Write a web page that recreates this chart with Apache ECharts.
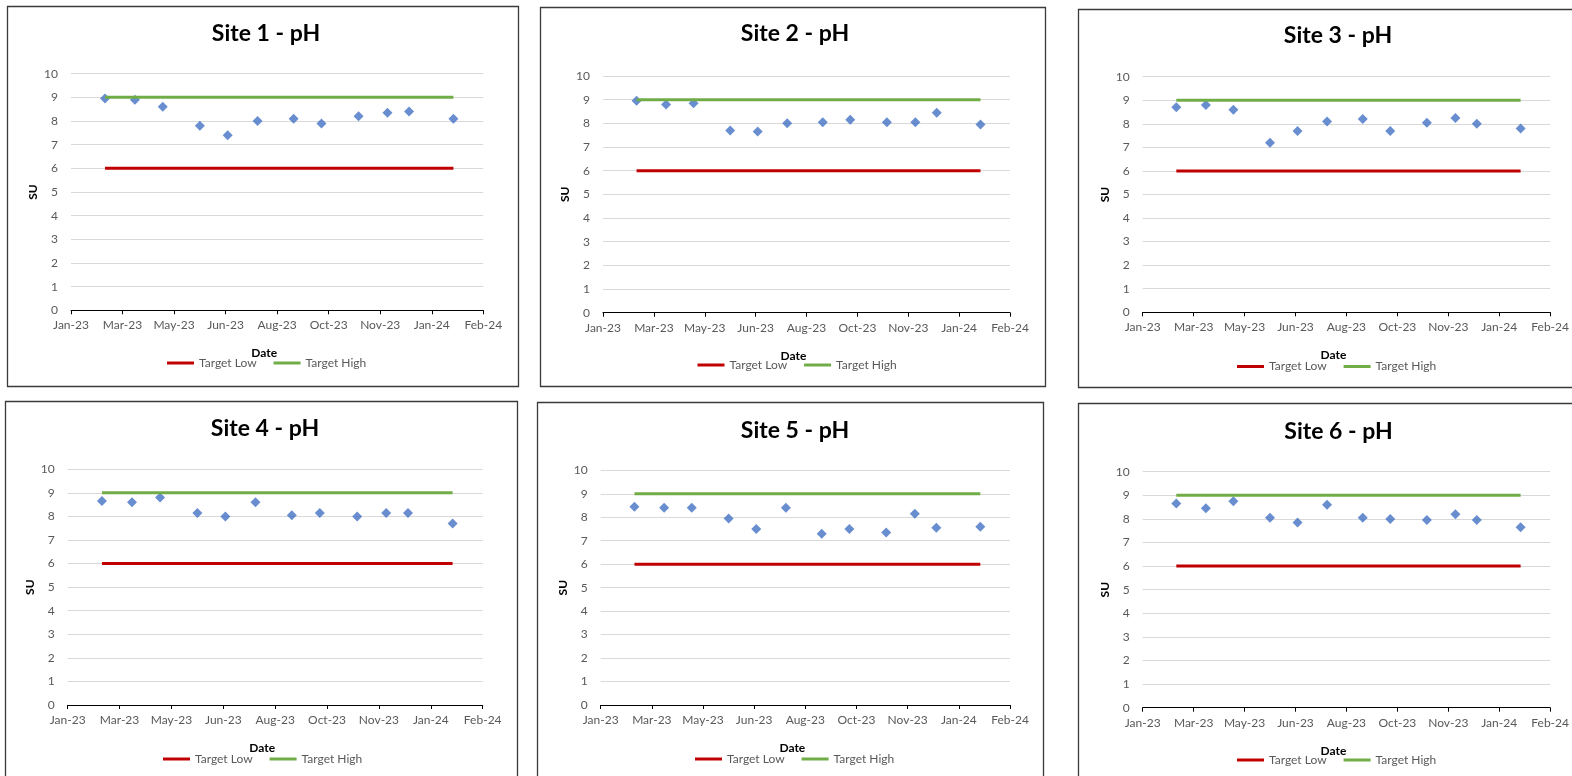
<!DOCTYPE html>
<html>
<head>
<meta charset="utf-8">
<script src="https://cdn.jsdelivr.net/npm/echarts@6/dist/echarts.min.js"></script>
<style>
html,body{margin:0;padding:0;background:#fff;}
#chart{width:1572px;height:776px;}
</style>
</head>
<body>
<div id="chart"></div>
<script>
// ---- Data ----
const sampleDates = ['2023-02-26','2023-03-27','2023-04-23','2023-05-29','2023-06-25','2023-07-24','2023-08-28','2023-09-24','2023-10-30','2023-11-27','2023-12-18','2024-01-30'];
const site1 = [8.95, 8.9, 8.6, 7.8, 7.4, 8.0, 8.1, 7.9, 8.2, 8.35, 8.4, 8.1];
const site2 = [8.95, 8.8, 8.85, 7.7, 7.65, 8.0, 8.05, 8.15, 8.05, 8.05, 8.45, 7.95];
const site3 = [8.7, 8.8, 8.6, 7.2, 7.7, 8.1, 8.2, 7.7, 8.05, 8.25, 8.0, 7.8];
const site4 = [8.65, 8.6, 8.8, 8.15, 8.0, 8.6, 8.05, 8.15, 8.0, 8.15, 8.15, 7.7];
const site5 = [8.45, 8.4, 8.4, 7.95, 7.5, 8.4, 7.3, 7.5, 7.35, 8.15, 7.55, 7.6];
const site6 = [8.65, 8.45, 8.75, 8.05, 7.85, 8.6, 8.05, 8.0, 7.95, 8.2, 7.95, 7.65];
const siteNames = ['Site 1 - pH','Site 2 - pH','Site 3 - pH','Site 4 - pH','Site 5 - pH','Site 6 - pH'];
const targetLow = 6;
const targetHigh = 9;
const xTickLabels = ['Jan-23','Mar-23','May-23','Jun-23','Aug-23','Oct-23','Nov-23','Jan-24','Feb-24'];
const xMinDate = '2023-01-24';   // first axis tick (Excel serial 44950)
const xTickStepDays = 50;

// ---- Helpers ----
function serial(d){ const p=d.split('-').map(Number); return Date.UTC(p[0],p[1]-1,p[2])/86400000 + 25569; }
const xMin = serial(xMinDate);
const xMax = xMin + xTickStepDays*(xTickLabels.length-1);

// ---- Layout (pixels) ----
const panels = [
  {border:[7,6,518,386],     grid:[71,73.7,483.3,310.3],     title:[261,17.5],   legend:[167,357]},
  {border:[540,7,1045,386],  grid:[603,76,1010,312.7],       title:[790,17.5],   legend:[697.5,359]},
  {border:[1078,9,1620,387], grid:[1142.7,76.7,1557.3,312.3],title:[1333,19.5],  legend:[1237,360.5]},
  {border:[5,401,517,820],   grid:[67.7,469.3,482.7,705],    title:[260,412.5],  legend:[163,753]},
  {border:[537,402,1043,820],grid:[600.7,470.3,1010,705],    title:[790,414.5],  legend:[695,753]},
  {border:[1078,403,1620,820],grid:[1142.7,471.7,1557.3,707.7],title:[1333.5,415.5],legend:[1237,754]}
];
const sites = [site1, site2, site3, site4, site5, site6];
const FONT = 'Lato, "Open Sans", sans-serif';

const option = {
  backgroundColor:'#fff',
  animation:false,
  title:[], grid:[], xAxis:[], yAxis:[], series:[], legend:[],
  graphic:[]
};

panels.forEach((p,i)=>{
  option.graphic.push({type:'rect', shape:{x:p.border[0]+0.5,y:p.border[1]+0.5,width:p.border[2]-p.border[0],height:p.border[3]-p.border[1]},
    style:{fill:null, stroke:'#3a3a3a', lineWidth:1.3}, silent:true, z:-1});
  option.title.push({text:siteNames[i], left:p.title[0], top:p.title[1], textAlign:'center',
    textStyle:{fontFamily:FONT, fontSize:23, fontWeight:'bold', color:'#000'}});
  option.grid.push({left:p.grid[0], top:p.grid[1], width:p.grid[2]-p.grid[0], height:p.grid[3]-p.grid[1], containLabel:false});
  option.xAxis.push({gridIndex:i, type:'value', min:xMin, max:xMax, interval:xTickStepDays,
    name:'Date', nameLocation:'middle', nameGap:37,
    nameTextStyle:{fontFamily:FONT, fontSize:12, fontWeight:'bold', color:'#000', padding:[0,26,0,0]},
    axisLine:{show:true, lineStyle:{color:'#000', width:1}},
    axisTick:{show:true, length:4, lineStyle:{color:'#000'}},
    splitLine:{show:false},
    axisLabel:{color:'#595959', fontFamily:FONT, fontSize:12, margin:9, showMinLabel:true, showMaxLabel:true,
      formatter:(v)=>{ const k=Math.round((v-xMin)/xTickStepDays); return xTickLabels[k]||''; }}
  });
  option.yAxis.push({gridIndex:i, type:'value', min:0, max:10, interval:1,
    name:'SU', nameLocation:'middle', nameGap:32, nameRotate:90,
    nameTextStyle:{fontFamily:FONT, fontSize:12, fontWeight:'bold', color:'#000'},
    axisLine:{show:false}, axisTick:{show:false},
    splitLine:{show:true, lineStyle:{color:'#D9D9D9', width:1}},
    axisLabel:{color:'#595959', fontFamily:FONT, fontSize:12, margin:13}
  });
  const first = serial(sampleDates[0]), last = serial(sampleDates[sampleDates.length-1]);
  option.series.push({type:'scatter', name:'pH', xAxisIndex:i, yAxisIndex:i,
    symbol:'diamond', symbolSize:10, itemStyle:{color:'#4472C4'}, z:2,
    data: sampleDates.map((d,j)=>[serial(d), sites[i][j]])});
  option.series.push({type:'line', name:'Target Low', xAxisIndex:i, yAxisIndex:i, symbol:'none', z:3,
    lineStyle:{color:'#C00000', width:3}, itemStyle:{color:'#C00000'},
    data:[[first,targetLow],[last,targetLow]]});
  option.series.push({type:'line', name:'Target High', xAxisIndex:i, yAxisIndex:i, symbol:'none', z:3,
    lineStyle:{color:'#70AD47', width:3}, itemStyle:{color:'#70AD47'},
    data:[[first,targetHigh],[last,targetHigh]]});
  option.legend.push({data:['Target Low','Target High'], left:p.legend[0], top:p.legend[1], padding:0,
    icon:'rect', itemWidth:27, itemHeight:3, itemGap:17, selectedMode:false,
    textStyle:{color:'#595959', fontFamily:FONT, fontSize:12}});
});

const chart = echarts.init(document.getElementById('chart'), null, {renderer:'canvas'});
chart.setOption(option);
</script>
</body>
</html>
